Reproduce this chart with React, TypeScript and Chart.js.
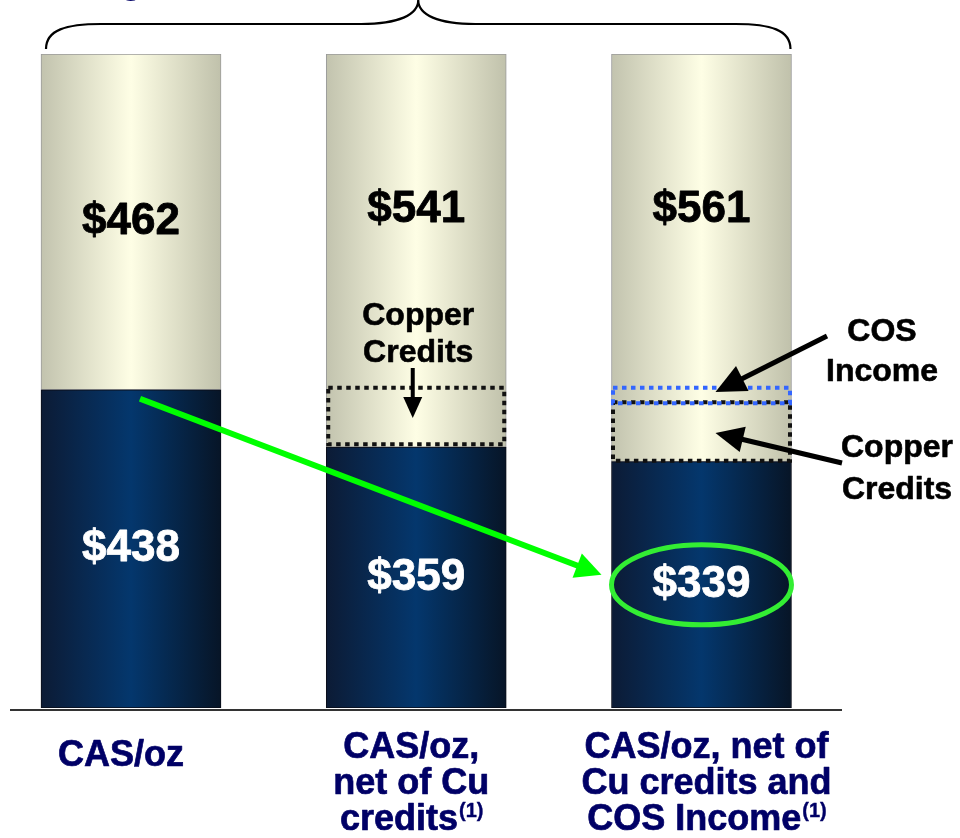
import React, { useEffect, useRef } from "react";
import { Chart, registerables } from "chart.js";

Chart.register(...registerables);

// ---- data ----
const categoryLines: string[][] = [
  ["CAS/oz"],
  ["CAS/oz,", "net of Cu", "credits"],
  ["CAS/oz, net of", "Cu credits and", "COS Income"],
];
const footnoteMarks = ["", "(1)", "(1)"];
const netCost = [438, 359, 339];
const remainder = [462, 541, 561];
const copperCredit = 79; // 438 - 359
const cosIncome = 20; // 359 - 339
const netLabels = ["$438", "$359", "$339"];
const remainderLabels = ["$462", "$541", "$561"];

const FONT = '"Liberation Sans", Arial, Helvetica, sans-serif';
const BAR_W = 180;

function gradientFill(stops: [number, string][]) {
  return (c: any) => {
    const chart = c.chart;
    const xs = chart.scales?.x;
    if (!chart.chartArea || !xs) return stops[Math.floor(stops.length / 2)][1];
    const cx = xs.getPixelForValue(c.dataIndex);
    const g = chart.ctx.createLinearGradient(cx - BAR_W / 2, 0, cx + BAR_W / 2, 0);
    stops.forEach(([o, col]) => g.addColorStop(o, col));
    return g;
  };
}

function drawArrow(ctx: CanvasRenderingContext2D, x1: number, y1: number, x2: number, y2: number, color: string, lw: number, headLen: number, headW: number) {
  const ang = Math.atan2(y2 - y1, x2 - x1);
  const bx = x2 - headLen * Math.cos(ang);
  const by = y2 - headLen * Math.sin(ang);
  ctx.save();
  ctx.setLineDash([]);
  ctx.strokeStyle = color;
  ctx.lineWidth = lw;
  ctx.beginPath();
  ctx.moveTo(x1, y1);
  ctx.lineTo(bx + 2 * Math.cos(ang), by + 2 * Math.sin(ang));
  ctx.stroke();
  ctx.fillStyle = color;
  ctx.beginPath();
  ctx.moveTo(x2, y2);
  ctx.lineTo(bx + (headW / 2) * Math.sin(ang), by - (headW / 2) * Math.cos(ang));
  ctx.lineTo(bx - (headW / 2) * Math.sin(ang), by + (headW / 2) * Math.cos(ang));
  ctx.closePath();
  ctx.fill();
  ctx.restore();
}

function dottedRect(ctx: CanvasRenderingContext2D, x1: number, y1: number, x2: number, y2: number, color: string, lw: number) {
  ctx.save();
  ctx.strokeStyle = color;
  ctx.lineWidth = lw;
  ctx.setLineDash([4.5, 4.5]);
  ctx.strokeRect(x1, y1, x2 - x1, y2 - y1);
  ctx.restore();
}

function boldText(ctx: CanvasRenderingContext2D, s: string, x: number, y: number, stroke: number) {
  ctx.fillText(s, x, y);
  if (stroke > 0) {
    ctx.save();
    ctx.strokeStyle = ctx.fillStyle as string;
    ctx.lineWidth = stroke;
    ctx.lineJoin = "round";
    ctx.strokeText(s, x, y);
    ctx.restore();
  }
}

const overlayPlugin = {
  id: "overlay",
  afterDraw(chart: any) {
    const ctx: CanvasRenderingContext2D = chart.ctx;
    const ys = chart.scales.y;
    const area = chart.chartArea;
    const navy = chart.getDatasetMeta(0).data;
    const beige = chart.getDatasetMeta(1).data;
    const half = BAR_W / 2;

    ctx.save();

    // baseline
    ctx.strokeStyle = "#333";
    ctx.lineWidth = 2;
    ctx.beginPath();
    ctx.moveTo(area.left, area.bottom + 2);
    ctx.lineTo(area.right, area.bottom + 2);
    ctx.stroke();

    // brace on top
    const bl = navy[0].x - half + 5;
    const br = navy[2].x + half - 1;
    const mid = (bl + br) / 2;
    const yEnd = area.top - 5;
    const yLine = area.top - 30;
    const yPeak = area.top - 54;
    ctx.strokeStyle = "#000";
    ctx.lineWidth = 2.2;
    ctx.beginPath();
    ctx.moveTo(bl, yEnd);
    ctx.bezierCurveTo(bl, yLine + 6, bl + 20, yLine, bl + 55, yLine);
    ctx.lineTo(mid - 57, yLine);
    ctx.bezierCurveTo(mid - 20, yLine, mid, yLine - 9, mid, yPeak);
    ctx.bezierCurveTo(mid, yLine - 9, mid + 20, yLine, mid + 57, yLine);
    ctx.lineTo(br - 55, yLine);
    ctx.bezierCurveTo(br - 20, yLine, br, yLine + 6, br, yEnd);
    ctx.stroke();

    // partially visible title glyph
    ctx.fillStyle = "#000066";
    ctx.font = `bold 38px ${FONT}`;
    ctx.textAlign = "center";
    ctx.textBaseline = "alphabetic";
    ctx.fillText("g", navy[0].x, yPeak - 7);

    // value labels
    ctx.textBaseline = "middle";
    ctx.font = `bold 44px ${FONT}`;
    const beigeLabelAt = [669, 685, 685];
    for (let i = 0; i < 3; i++) {
      ctx.fillStyle = "#000";
      boldText(ctx, remainderLabels[i], beige[i].x, ys.getPixelForValue(beigeLabelAt[i]), 0.8);
      ctx.fillStyle = "#fff";
      boldText(ctx, netLabels[i], navy[i].x, (navy[i].y + navy[i].base) / 2, 0.8);
    }

    // bar 2: copper credits box + arrow + label
    const b2 = navy[1].x;
    dottedRect(ctx, b2 - 88, ys.getPixelForValue(netCost[0]) - 2, b2 + 88, ys.getPixelForValue(netCost[1]) - 3, "#111", 4);
    ctx.fillStyle = "#000";
    ctx.font = `bold 32px ${FONT}`;
    boldText(ctx, "Copper", b2 + 2, 316, 0.6);
    boldText(ctx, "Credits", b2 + 2, 353, 0.6);
    drawArrow(ctx, b2 - 3.5, 368, b2 - 3.5, 418, "#000", 4, 21, 19);

    // bar 3: COS income + copper credits boxes
    const b3 = navy[2].x;
    const yCopTop = ys.getPixelForValue(netCost[2] + copperCredit);
    const yCosTop = ys.getPixelForValue(netCost[2] + copperCredit + cosIncome);
    dottedRect(ctx, b3 - 88.5, yCopTop - 2, b3 + 88.5, ys.getPixelForValue(netCost[2]) - 1, "#111", 4);
    dottedRect(ctx, b3 - 88.5, yCosTop - 2, b3 + 88.5, yCopTop - 1, "#3366ff", 4);

    ctx.fillStyle = "#000";
    ctx.font = `bold 32px ${FONT}`;
    boldText(ctx, "COS", 882, 332, 0.6);
    boldText(ctx, "Income", 882, 372, 0.6);
    boldText(ctx, "Copper", 897, 448, 0.6);
    boldText(ctx, "Credits", 897, 490, 0.6);
    drawArrow(ctx, 827, 336, b3 + 14, 392, "#000", 5, 30, 28);
    drawArrow(ctx, 842, 463, b3 + 14, 433, "#000", 5, 28, 26);

    // green highlight
    const ecx = b3;
    const ecy = (navy[2].y + navy[2].base) / 2;
    ctx.strokeStyle = "#33ee33";
    ctx.lineWidth = 5;
    ctx.beginPath();
    ctx.ellipse(ecx, ecy, 90, 40, 0, 0, Math.PI * 2);
    ctx.stroke();
    drawArrow(ctx, navy[0].x + 9, navy[0].y + 9, ecx - 100, ecy - 10, "#00ff00", 6, 26, 26);

    // category labels
    ctx.fillStyle = "#000066";
    const labelDx = [-10, -5, 5];
    const lineY = [748, 784, 820];
    for (let i = 0; i < 3; i++) {
      const lines = categoryLines[i];
      const cx = navy[i].x + labelDx[i];
      lines.forEach((ln, k) => {
        const y = lines.length === 1 ? 756 : lineY[k];
        const isLast = k === lines.length - 1;
        const sup = isLast ? footnoteMarks[i] : "";
        ctx.font = `bold 36px ${FONT}`;
        const w1 = ctx.measureText(ln).width;
        ctx.font = `bold 20px ${FONT}`;
        const w2 = sup ? ctx.measureText(sup).width : 0;
        const start = cx - (w1 + w2) / 2;
        ctx.textAlign = "left";
        ctx.font = `bold 36px ${FONT}`;
        boldText(ctx, ln, start, y, 0.7);
        if (sup) {
          ctx.font = `bold 20px ${FONT}`;
          boldText(ctx, sup, start + w1 + 1, y - 9, 0.4);
        }
        ctx.textAlign = "center";
      });
    }

    ctx.restore();
  },
};

export default function App() {
  const ref = useRef<HTMLCanvasElement | null>(null);

  useEffect(() => {
    if (!ref.current) return;
    const chart = new Chart(ref.current, {
      type: "bar",
      data: {
        datasets: [
          {
            label: "Net CAS",
            data: netCost.map((v, i) => ({ x: i, y: v })),
            backgroundColor: gradientFill([
              [0, "#0c1b35"],
              [0.5, "#04376d"],
              [1, "#071527"],
            ]),
            borderColor: "#0a0d18",
            borderWidth: 1,
            borderSkipped: false,
            barThickness: BAR_W,
          },
          {
            label: "Remainder",
            data: remainder.map((v, i) => ({ x: i, y: v })),
            backgroundColor: gradientFill([
              [0, "#c2c3ae"],
              [0.5, "#fefee5"],
              [1, "#c0c1ab"],
            ]),
            borderColor: "#9a9a9a",
            borderWidth: 1,
            borderSkipped: false,
            barThickness: BAR_W,
          },
        ],
      },
      options: {
        animation: false,
        responsive: false,
        maintainAspectRatio: false,
        layout: { padding: { left: 10, right: 118, top: 54, bottom: 130 } },
        plugins: { legend: { display: false }, tooltip: { enabled: false } },
        scales: {
          x: {
            type: "linear",
            min: -0.4242,
            max: 2.4926,
            offset: false,
            stacked: true,
            display: false,
            grid: { display: false },
          },
          y: {
            min: 0,
            max: 900,
            stacked: true,
            display: false,
            grid: { display: false },
          },
        },
      },
      plugins: [overlayPlugin],
    });
    return () => chart.destroy();
  }, []);

  return (
    <div style={{ position: "fixed", left: 0, top: 0, width: 960, height: 838, background: "#fff" }}>
      <canvas ref={ref} width={960} height={838} />
    </div>
  );
}
